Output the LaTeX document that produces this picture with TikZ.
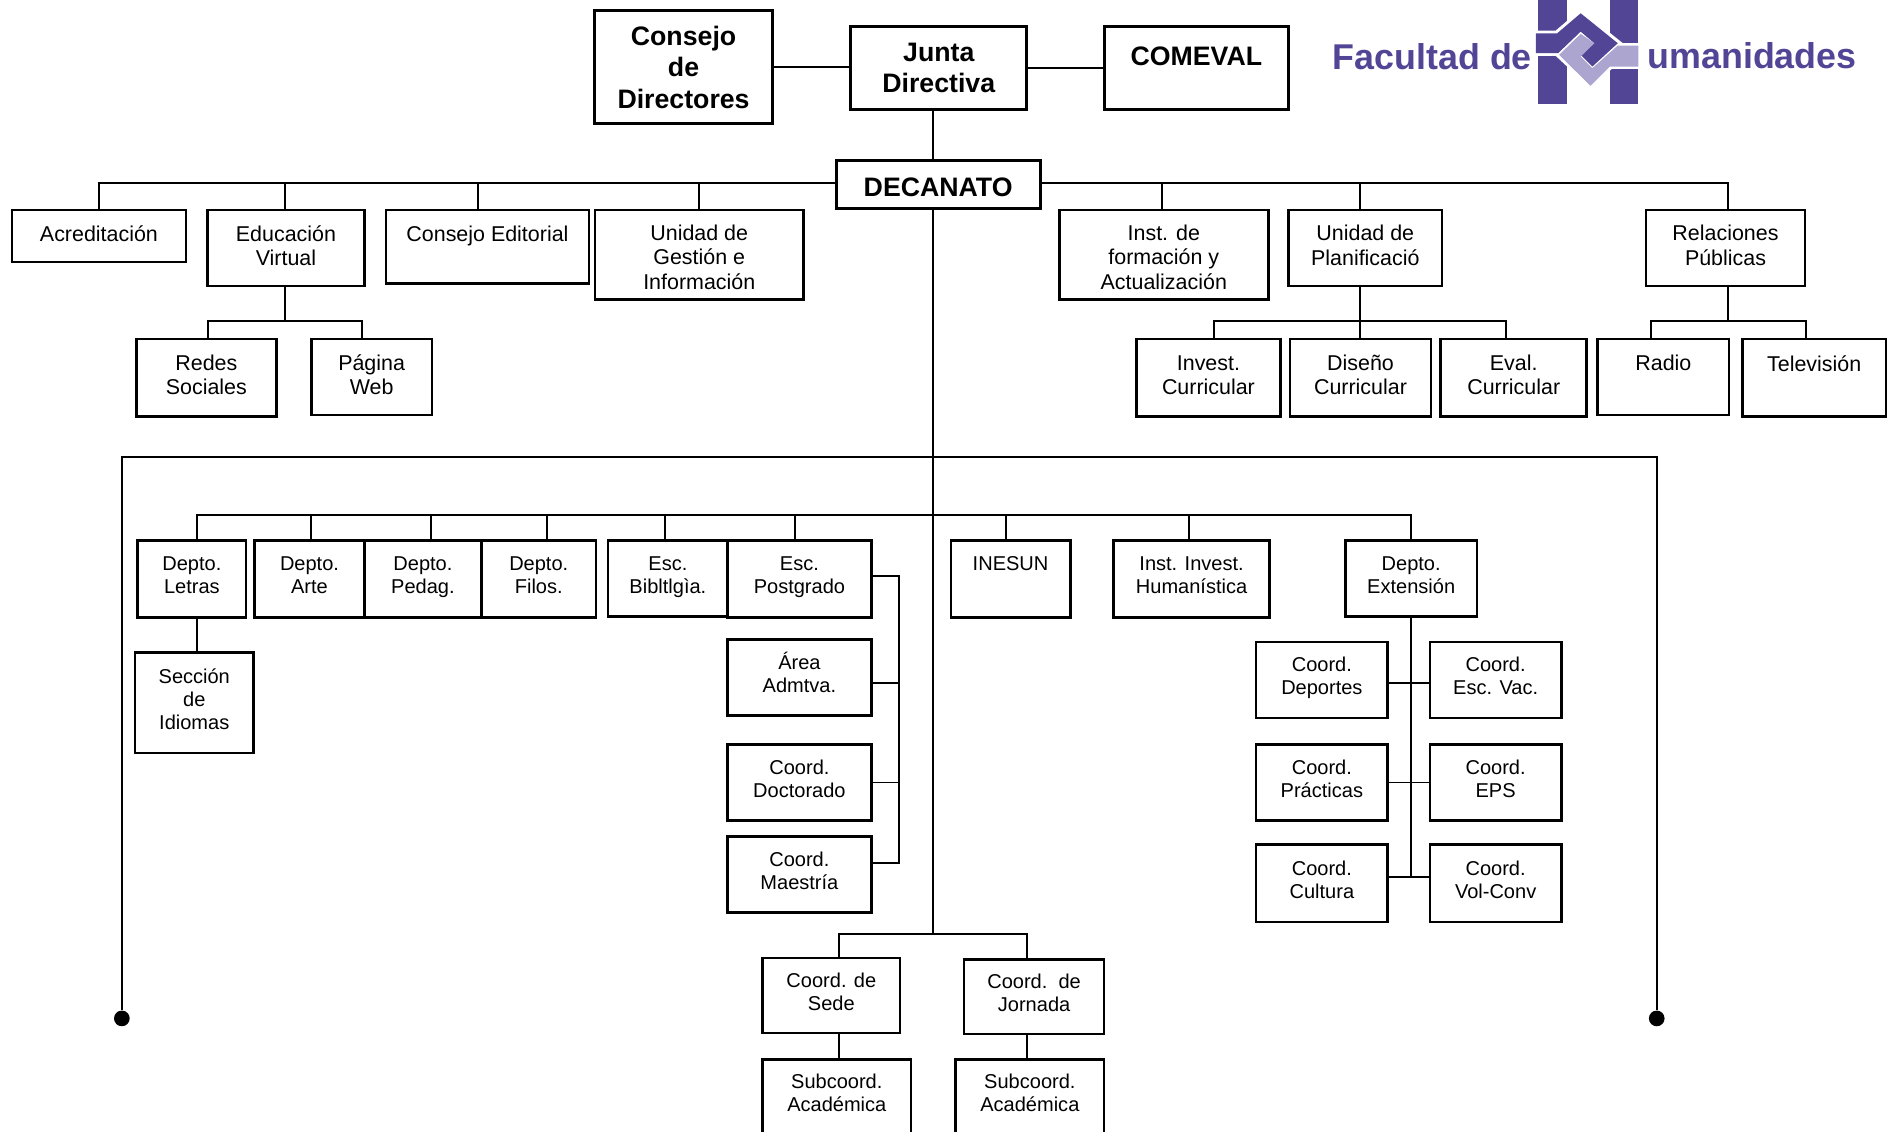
\documentclass[tikz,border=0pt]{standalone}
\usepackage{fontspec}
\setmainfont{Liberation Sans}
\usetikzlibrary{positioning}
\def\pxu{0.012066cm}
\definecolor{logodark}{HTML}{524596}
\definecolor{logolight}{HTML}{ABA5D0}
\tikzset{
	box/.style={shape=rectangle,draw=black,fill=white,line width=0.75pt,align=center,inner sep=0pt,text depth=2.2pt,font=\fontsize{5.7}{6.5}\selectfont},
	top-box/.style={box,text depth=1.5pt,font=\fontsize{6.1}{6.9}\selectfont},
	head-box/.style={box,line width=0.85pt,font=\bfseries\fontsize{7.6}{9.0}\selectfont},
	wh/.style 2 args={minimum width=#1*\pxu,minimum height=#2*\pxu},
	link/.style={line width=0.55pt,draw=black},
	trunk-line/.style={line width=0.65pt,draw=black},
	end-dot/.style={shape=circle,fill=black,inner sep=0pt,minimum size=13*\pxu},
	logo-text/.style={text=logodark,inner sep=0pt,font=\bfseries\fontsize{10.2}{12}\selectfont},
}
\begin{document}
\begin{tikzpicture}[x=0.012066cm,y=-0.012066cm]
	\useasboundingbox (0,0) rectangle (1568,938);

	% logo
	\begin{scope}[shift={(1060.8,0)},x=0.003903cm,y=-0.003333cm]
		\fill[logodark] (660,0) rectangle (735,98);
		\fill[logodark] (845,0) rectangle (918,130);
		\fill[logodark] (660,168) rectangle (735,312);
		\fill[logodark] (845,205) rectangle (918,312);
		\fill[white] (640,92) -- (706,92) -- (770,28) -- (878,130) -- (928,130) -- (928,207) -- (850,207) -- (797,268) -- (706,168) -- (640,168) -- cycle;
		\fill[logodark] (655,100) -- (710,100) -- (770,40) -- (865,130) -- (800,200) -- (770,165) -- (805,130) -- (770,95) -- (712,160) -- (655,160) -- cycle;
		\fill[logolight] (770,102) -- (805,130) -- (770,170) -- (800,205) -- (865,137) -- (918,137) -- (918,200) -- (845,200) -- (795,258) -- (715,165) -- cycle;
	\end{scope}
	\node[logo-text] (facultad) at (1187,47) {Facultad de};
	\node[logo-text] (humanidades) at (1452,46) {umanidades};

	% top of the chart
	\node[head-box,wh={147}{93},text depth=0pt,text height=23.6pt] (consejo) at (566.5,55.5) {Consejo\\de\\Directores};
	\node[head-box,wh={146}{69},text depth=0.3pt] (junta) at (778,56.5) {Junta\\Directiva};
	\node[head-box,wh={153}{69},text depth=6.8pt] (comeval) at (991.5,56.5) {COMEVAL};
	\node[head-box,wh={169}{40},text depth=0pt,text height=7pt] (decanato) at (777.5,153) {DECANATO};

	% staff row
	\node[top-box,wh={144}{43}] (acred) at (82,195.5) {Acreditación};
	\node[top-box,wh={130}{63}] (educ) at (237,205.5) {Educación\\Virtual};
	\node[top-box,wh={168}{61},text depth=7.5pt] (editorial) at (404,204.5) {Consejo Editorial};
	\node[top-box,wh={173}{74},text depth=0pt,text height=19.6pt] (gestion) at (579.5,211) {Unidad de\\Gestión e\\Información};
	\node[top-box,wh={173}{74},text depth=0pt,text height=19.6pt] (formacion) at (964.5,211) {Inst. de\\formación y\\Actualización};
	\node[top-box,wh={127}{63}] (planif) at (1131.5,205.5) {Unidad de\\Planificació};
	\node[top-box,wh={132}{63}] (relac) at (1430,205.5) {Relaciones\\Públicas};

	\node[top-box,wh={116}{64}] (redes) at (171,313) {Redes\\Sociales};
	\node[top-box,wh={100}{63}] (pagina) at (308,312.5) {Página\\Web};
	\node[top-box,wh={119}{64}] (invest) at (1001.5,313) {Invest.\\Curricular};
	\node[top-box,wh={117}{64}] (diseno) at (1127.5,313) {Diseño\\Curricular};
	\node[top-box,wh={121}{64}] (eval) at (1254.5,313) {Eval.\\Curricular};
	\node[top-box,wh={109}{63},text depth=8pt] (radio) at (1378.5,312.5) {Radio};
	\node[top-box,wh={119}{64},text depth=8pt] (tele) at (1503.5,313) {Televisión};

	% departments
	\node[box,wh={90}{64}] (letras) at (159,480) {Depto.\\Letras};
	\node[box,wh={91}{64}] (arte) at (256.5,480) {Depto.\\Arte};
	\node[box,wh={97}{64}] (pedag) at (350.5,480) {Depto.\\Pedag.};
	\node[box,wh={95}{64}] (filos) at (446.5,480) {Depto.\\Filos.};
	\node[box,wh={99}{63}] (bibl) at (553.5,479.5) {Esc.\\Bibltlgìa.};
	\node[box,wh={119}{64}] (postgrado) at (662.5,480) {Esc.\\Postgrado};
	\node[box,wh={99}{64},text depth=8.9pt] (inesun) at (837.5,480) {INESUN};
	\node[box,wh={129}{64}] (humanistica) at (987.5,480) {Inst. Invest.\\Humanística};
	\node[box,wh={109}{63}] (extension) at (1169.5,479.5) {Depto.\\Extensión};

	\node[box,wh={98}{83}] (seccion) at (161,582.5) {Sección\\de\\Idiomas};
	\node[box,wh={119}{63},text depth=2.8pt] (area) at (662.5,561.5) {Área\\Admtva.};
	\node[box,wh={119}{63}] (doctorado) at (662.5,648.5) {Coord.\\Doctorado};
	\node[box,wh={119}{63}] (maestria) at (662.5,724.5) {Coord.\\Maestría};

	\node[box,wh={109}{63}] (deportes) at (1095.5,563.5) {Coord.\\Deportes};
	\node[box,wh={109}{63}] (escvac) at (1239.5,563.5) {Coord.\\Esc. Vac.};
	\node[box,wh={109}{63}] (practicas) at (1095.5,648.5) {Coord.\\Prácticas};
	\node[box,wh={109}{63}] (eps) at (1239.5,648.5) {Coord.\\EPS};
	\node[box,wh={109}{64}] (cultura) at (1095.5,732) {Coord.\\Cultura};
	\node[box,wh={109}{64}] (volconv) at (1239.5,732) {Coord.\\Vol-Conv};

	\node[box,wh={114}{62}] (sede) at (689,825) {Coord. de\\Sede};
	\node[box,wh={116}{62}] (jornada) at (857,826) {Coord.\ \ de\\Jornada};
	\node[box,wh={123}{80},text depth=8.6pt] (subsede) at (693.5,918) {Subcoord.\\Académica};
	\node[box,wh={123}{80},text depth=8.6pt] (subjornada) at (853.5,918) {Subcoord.\\Académica};

	\node[end-dot] (dotL) at (101,844) {};
	\node[end-dot] (dotR) at (1373,844) {};

	\coordinate (trunk) at (773,774);
	\coordinate (busL) at (101,379);
	\coordinate (busR) at (1373,379);
	\coordinate (busD) at (773,427);
	\coordinate (busE) at (236,266);
	\coordinate (busP) at (1127,266);
	\coordinate (busT) at (1432,266);
	\coordinate (brk) at (745,477);

	\draw[link] (consejo) -- (consejo -| junta.west);
	\draw[link] (junta.east) -- (comeval.west |- junta.east);
	\draw[trunk-line] (trunk |- junta.south) -- (trunk |- decanato.north);
	\draw[trunk-line] (trunk |- decanato.south) -- (trunk);
	\draw[trunk-line] (dotL) -- (busL) -- (busR) -- (dotR);

	\foreach \name/\dx in {acred/0,educ/-1,editorial/-8,gestion/0}
		\draw[link] ([yshift=1*\pxu]decanato.west) -| ([xshift=\dx*\pxu]\name.north);
	\foreach \name/\dx in {formacion/-1.5,planif/-4.5,relac/2}
		\draw[link] ([yshift=1*\pxu]decanato.east) -| ([xshift=\dx*\pxu]\name.north);

	\draw[link] (busE |- educ.south) -- (busE);
	\draw[link] (busE) -| ([xshift=1*\pxu]redes.north);
	\draw[link] (busE) -| ([xshift=-8*\pxu]pagina.north);

	\draw[link] (busP |- planif.south) -- (busP);
	\draw[link] (busP) -| ([xshift=4.5*\pxu]invest.north);
	\draw[link] (busP) -- (busP |- diseno.north);
	\draw[link] (busP) -| ([xshift=-6.5*\pxu]eval.north);

	\draw[link] (busT |- relac.south) -- (busT);
	\draw[link] (busT) -| ([xshift=-10.5*\pxu]radio.north);
	\draw[link] (busT) -| ([xshift=-6.5*\pxu]tele.north);

	\foreach \name/\dx in {letras/4,arte/1.5,pedag/6.5,filos/6.5,bibl/-2.5,postgrado/-3.5,inesun/-3.5,humanistica/-2.5,extension/0}
		\draw[link] (busD) -| ([xshift=\dx*\pxu]\name.north);

	\draw[link] ([xshift=4*\pxu]letras.south) -- ([xshift=2*\pxu]seccion.north);

	\draw[link] (brk -| postgrado.east) -- (brk) |- ([yshift=9.5*\pxu]maestria.east);
	\draw[link] (brk |- area.east) ++(0,4.5) -- ([yshift=-4.5*\pxu]area.east);
	\draw[link] (brk |- doctorado.east) -- (doctorado.east);

	\draw[link] (extension.south) -- ([yshift=5*\pxu]extension.south |- cultura.east);
	\draw[link] ([yshift=-2.5*\pxu]deportes.east) -- ([yshift=-2.5*\pxu]escvac.west);
	\draw[link] (practicas.east) -- (eps.west);
	\draw[link] ([yshift=5*\pxu]cultura.east) -- ([yshift=5*\pxu]volconv.west);

	\draw[link] (trunk) -| ([xshift=6*\pxu]sede.north);
	\draw[link] (trunk) -| ([xshift=-6*\pxu]jornada.north);
	\draw[link] ([xshift=6*\pxu]sede.south) -- ([xshift=1.5*\pxu]subsede.north);
	\draw[link] ([xshift=-6*\pxu]jornada.south) -- ([xshift=-2.5*\pxu]subjornada.north);
\end{tikzpicture}
\end{document}
